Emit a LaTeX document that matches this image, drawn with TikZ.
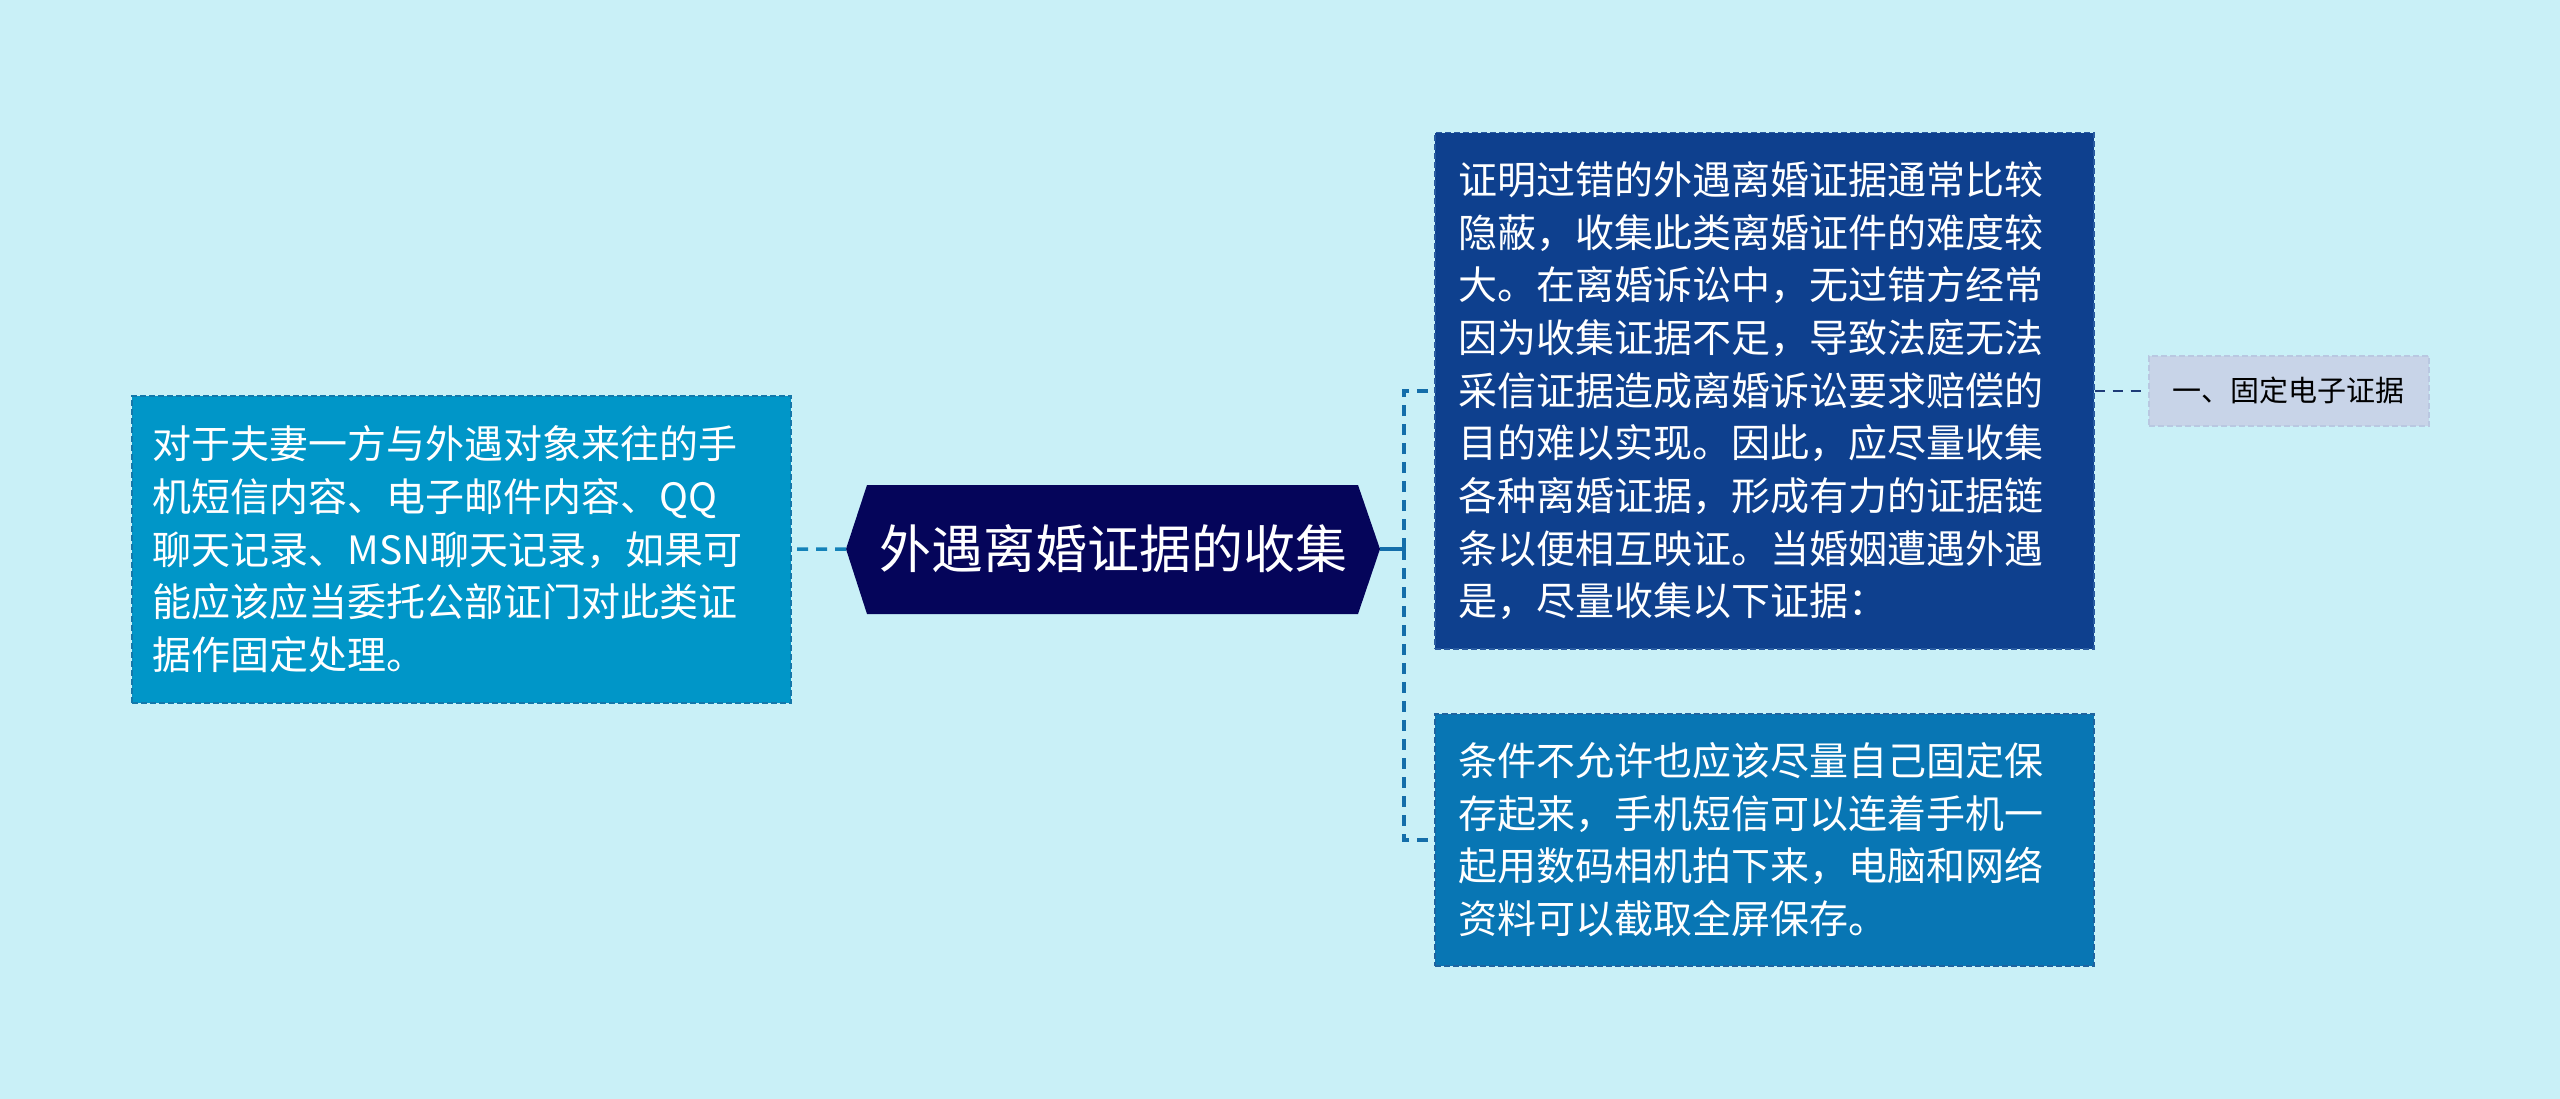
\documentclass[tikz,border=0pt]{standalone}
\usepackage{fontspec}
\setmainfont{Noto Sans CJK SC}
\definecolor{bgc}{RGB}{201,240,247}
\definecolor{lfill}{RGB}{0,150,200}
\definecolor{lborder}{RGB}{20,120,170}
\definecolor{tfill}{RGB}{14,64,142}
\definecolor{tborder}{RGB}{40,90,160}
\definecolor{bfill}{RGB}{8,118,180}
\definecolor{bborder}{RGB}{30,100,160}
\definecolor{cfill}{RGB}{5,5,90}
\definecolor{sfill}{RGB}{200,212,232}
\definecolor{sborder}{RGB}{185,200,225}
\definecolor{lline}{RGB}{20,130,185}
\definecolor{rline}{RGB}{20,110,170}
\definecolor{sline}{RGB}{30,60,120}
\tikzset{
  leafbox/.style={anchor=north west, draw, line width=1.5pt, dash pattern=on 6pt off 3pt,
    text=white, align=left, inner ysep=0pt,
    font=\fontsize{39pt}{52.7pt}\selectfont},
  conn/.style={line width=3.5pt},
  dconn/.style={line width=3.5pt, dash pattern=on 11pt off 8pt},
}
\begin{document}
\begin{tikzpicture}[x=1pt,y=-1pt]
\fill[bgc] (0,0) rectangle (2560,1099);
\useasboundingbox (0,0) rectangle (2560,1099);

% center hexagon
\fill[cfill] (846,549) -- (867,485) -- (1358,485) -- (1380,549) -- (1358,614) -- (867,614) -- cycle;
\coordinate (CL) at (846,549);
\coordinate (CR) at (1380,549);
\node[text=white, font=\fontsize{52pt}{60pt}\selectfont] (C) at (1113,549) {外遇离婚证据的收集};

% left box
\node[leafbox, fill=lfill, draw=lborder, minimum width=659pt, minimum height=307pt,
  text width=617pt, inner xsep=21pt] (L) at (131,395)
  {对于夫妻一方与外遇对象来往的手\\机短信内容、电子邮件内容、QQ\\聊天记录、MSN聊天记录，如果可\\能应该应当委托公部证门对此类证\\据作固定处理。};

% right top box
\node[leafbox, fill=tfill, draw=tborder, minimum width=659pt, minimum height=516pt,
  text width=611pt, inner xsep=24pt] (T) at (1434,132)
  {证明过错的外遇离婚证据通常比较\\隐蔽，收集此类离婚证件的难度较\\大。在离婚诉讼中，无过错方经常\\因为收集证据不足，导致法庭无法\\采信证据造成离婚诉讼要求赔偿的\\目的难以实现。因此，应尽量收集\\各种离婚证据，形成有力的证据链\\条以便相互映证。当婚姻遭遇外遇\\是，尽量收集以下证据：};

% right bottom box
\node[leafbox, fill=bfill, draw=bborder, minimum width=659pt, minimum height=252pt,
  text width=611pt, inner xsep=24pt] (B) at (1434,713)
  {条件不允许也应该尽量自己固定保\\存起来，手机短信可以连着手机一\\起用数码相机拍下来，电脑和网络\\资料可以截取全屏保存。};

% small node
\node[anchor=north west, fill=sfill, draw=sborder, line width=1.5pt, dash pattern=on 6pt off 3pt,
  minimum width=280pt, minimum height=70pt, inner xsep=16pt, text=black,
  font=\fontsize{29pt}{34pt}\selectfont] (S) at (2148,355) {一、固定电子证据};

% connectors
\draw[dconn, lline] (CL) -- (L.east);
\coordinate (J) at (1404,549);
\draw[conn, rline] (CR) -- (J);
\draw[dconn, rline] (J) |- (T.west);
\draw[dconn, rline] (J) |- (B.west);
\draw[sline, line width=2.5pt, dash pattern=on 10pt off 8pt] (T.east) -- (S.west);
\end{tikzpicture}
\end{document}
